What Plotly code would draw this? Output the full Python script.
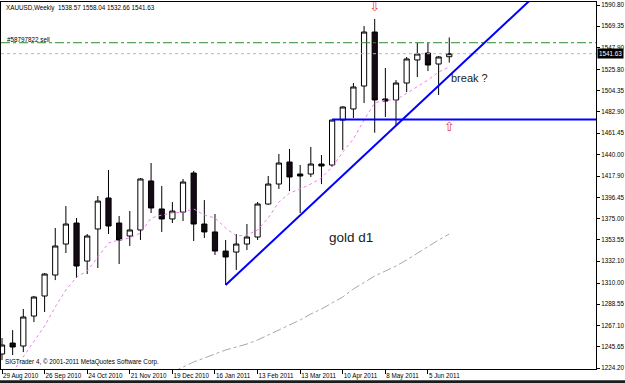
import plotly.graph_objects as go

# ---- data (weekly XAUUSD, 29 Aug 2010 .. 19 Jun 2011) ----
opens = [1238.3, 1249.4, 1246.4, 1276.7, 1296.9, 1318.1, 1349.4, 1370.6, 1332.2, 1364.6,
         1395.9, 1370.6, 1357.5, 1363.6, 1413.1, 1384.8, 1374.7, 1381.7, 1421.1, 1369.6,
         1361.6, 1342.3, 1341.3, 1349.4, 1356.5, 1389.8, 1410.0, 1432.2, 1420.1, 1420.1,
         1430.2, 1429.2, 1474.6, 1485.8, 1509.0, 1563.5, 1495.9, 1494.9, 1512.0, 1535.3,
         1542.3, 1531.2, 1538.57]
highs = [1254.5, 1262.5, 1283.8, 1297.0, 1320.1, 1365.6, 1387.8, 1375.7, 1359.5, 1397.9,
         1424.2, 1377.7, 1382.7, 1416.1, 1431.2, 1408.0, 1391.8, 1415.1, 1423.2, 1393.8,
         1379.7, 1353.5, 1359.5, 1369.6, 1391.8, 1418.1, 1440.3, 1445.4, 1429.2, 1447.4,
         1439.3, 1475.0, 1488.5, 1512.0, 1569.6, 1576.7, 1527.2, 1515.0, 1538.3, 1552.4,
         1552.4, 1539.3, 1558.04]
lows = [1232.2, 1237.3, 1240.3, 1270.6, 1280.7, 1313.0, 1340.3, 1315.1, 1319.1, 1325.2,
        1359.5, 1329.2, 1347.4, 1353.5, 1380.7, 1361.6, 1370.6, 1372.6, 1352.4, 1355.5,
        1338.3, 1308.0, 1323.2, 1343.3, 1353.5, 1389.0, 1405.0, 1402.9, 1380.7, 1417.1,
        1410.0, 1427.2, 1444.4, 1476.7, 1491.8, 1461.8, 1477.7, 1468.6, 1502.9, 1518.1,
        1524.1, 1499.9, 1532.66]
closes = [1247.4, 1245.4, 1275.7, 1295.9, 1319.1, 1347.4, 1369.6, 1327.2, 1357.5, 1392.8,
          1367.6, 1353.5, 1363.6, 1415.1, 1385.8, 1374.7, 1382.7, 1412.0, 1369.6, 1361.6,
          1342.3, 1336.3, 1349.4, 1356.5, 1389.8, 1410.0, 1431.2, 1417.1, 1418.1, 1430.2,
          1428.2, 1474.6, 1487.8, 1508.0, 1563.5, 1494.9, 1493.8, 1512.0, 1536.3, 1541.3,
          1530.2, 1538.3, 1541.63]
bar_index = list(range(len(opens)))

# short moving average (pink dotted), read per bar starting at bar 1
fast_ma_start = 1
fast_ma = [1220.0, 1235.3, 1250.4, 1266.6, 1285.8, 1303.0, 1316.1, 1322.1, 1336.3, 1350.4,
           1353.5, 1355.5, 1360.5, 1375.7, 1378.7, 1380.7, 1381.7, 1384.8, 1378.7, 1375.7,
           1365.6, 1357.5, 1358.5, 1363.6, 1375.7, 1391.8, 1400.9, 1405.0, 1410.0, 1416.1,
           1427.2, 1442.3, 1455.5, 1474.6, 1491.8, 1494.9, 1494.9, 1501.9, 1508.0, 1515.1,
           1523.1, 1528.2]
# long moving average (gray dash-dot), read per bar starting at bar 16
slow_ma_start = 16
slow_ma = [1220.0, 1225.2, 1230.3, 1234.3, 1238.3, 1242.4, 1245.4, 1248.4, 1252.5, 1257.5,
           1262.6, 1267.6, 1272.7, 1278.7, 1283.8, 1289.9, 1295.9, 1304.0, 1311.0, 1317.1,
           1322.1, 1327.2, 1333.3, 1340.3, 1347.4, 1353.5, 1359.5]

# trend line anchors and levels
trend_x = [21, 49.5]
trend_y = [1308.0, 1594.8]
support_level = 1475.2
support_start = 31
order_level = 1552.7
bid_level = 1541.63

# arrow objects
arrow_down_x, arrow_down_y = [35], [1588.0]
arrow_up_x, arrow_up_y = [42], [1466.5]

# axis labels
date_ticks = [0, 4, 8, 12, 16, 20, 24, 28, 32, 36, 40]
date_labels = ["29 Aug 2010", "26 Sep 2010", "24 Oct 2010", "21 Nov 2010", "19 Dec 2010",
               "16 Jan 2011", "13 Feb 2011", "13 Mar 2011", "10 Apr 2011", "8 May 2011",
               "5 Jun 2011"]
price_ticks = [1590.80, 1569.35, 1547.90, 1525.80, 1504.35, 1482.90, 1461.45, 1440.00,
               1417.90, 1396.45, 1375.00, 1353.55, 1332.10, 1310.00, 1288.55, 1267.10,
               1245.65, 1224.20]

X_RANGE = [-0.094, 55.78]
Y_RANGE = [1223.19, 1593.83]
FONT = "Liberation Sans, Arial, sans-serif"

fig = go.Figure()

# horizontal order line and bid line
fig.add_trace(go.Scatter(x=X_RANGE, y=[order_level, order_level], mode="lines",
                         line=dict(color="#2e8b2e", width=1, dash="dashdot"), hoverinfo="skip"))
fig.add_trace(go.Scatter(x=X_RANGE, y=[bid_level, bid_level], mode="lines",
                         line=dict(color="#b4b4cc", width=1, dash="dot"), hoverinfo="skip"))

# moving averages
fig.add_trace(go.Scatter(x=list(range(slow_ma_start, slow_ma_start + len(slow_ma))), y=slow_ma,
                         mode="lines", line=dict(color="#a8a8a8", width=1, dash="dashdot"),
                         hoverinfo="skip"))
fig.add_trace(go.Scatter(x=list(range(fast_ma_start, fast_ma_start + len(fast_ma))), y=fast_ma,
                         mode="lines", line=dict(color="#ee82ee", width=1, dash="dot"),
                         hoverinfo="skip"))

# candles
fig.add_trace(go.Candlestick(
    x=bar_index, open=opens, high=highs, low=lows, close=closes,
    increasing=dict(line=dict(color="black", width=1), fillcolor="white"),
    decreasing=dict(line=dict(color="black", width=1), fillcolor="#140a14"),
    whiskerwidth=0, hoverinfo="skip"))

# blue trend line and support line
fig.add_trace(go.Scatter(x=trend_x, y=trend_y, mode="lines",
                         line=dict(color="#0000ff", width=2), hoverinfo="skip"))
fig.add_trace(go.Scatter(x=[support_start, X_RANGE[1]], y=[support_level, support_level],
                         mode="lines", line=dict(color="#0000ff", width=2), hoverinfo="skip"))

# arrows
fig.add_trace(go.Scatter(x=arrow_down_x, y=arrow_down_y, mode="text", text=["⇩"],
                         textfont=dict(color="#e04040", size=13, family="DejaVu Sans"),
                         hoverinfo="skip"))
fig.add_trace(go.Scatter(x=arrow_up_x, y=arrow_up_y, mode="text", text=["⇧"],
                         textfont=dict(color="#e04040", size=13, family="DejaVu Sans"),
                         hoverinfo="skip"))

small = dict(family=FONT, size=6.3, color="black")
annotations = [
    dict(text="XAUUSD,Weekly  1538.57 1558.04 1532.66 1541.63", xref="paper", yref="paper",
         x=0.005, y=0.984, xanchor="left", yanchor="middle", showarrow=False, font=small),
    dict(text="#58797822 sell", xref="paper", yref="paper", x=0.006, y=0.898,
         xanchor="left", yanchor="middle", showarrow=False, font=small),
    dict(text="SIGTrader 4, © 2001-2011 MetaQuotes Software Corp.", xref="paper", yref="paper",
         x=0.004, y=0.018, xanchor="left", yanchor="middle", showarrow=False, font=small),
    dict(text="gold d1", x=32.75, y=1355.5, xref="x", yref="y", showarrow=False,
         font=dict(family=FONT, size=13.5, color="#1a1a1a")),
    dict(text="break ?", x=43.9, y=1517.1, xref="x", yref="y", showarrow=False,
         font=dict(family=FONT, size=11, color="#1a1a1a")),
    dict(text="1541.63", xref="paper", yref="y", x=1.002, y=bid_level, xanchor="left",
         yanchor="middle", showarrow=False, bgcolor="black", borderpad=1,
         font=dict(family=FONT, size=6.3, color="white")),
]

fig.update_layout(
    width=625, height=383,
    margin=dict(l=1, r=29, t=2, b=14, pad=0),
    paper_bgcolor="white", plot_bgcolor="white",
    showlegend=False, hovermode=False,
    annotations=annotations,
    shapes=[dict(type="rect", xref="paper", yref="paper", x0=-0.01, x1=1.06,
                 y0=-0.06, y1=-0.0305, fillcolor="#1c1c1c", line=dict(width=0), layer="above")],
    xaxis=dict(range=X_RANGE, rangeslider=dict(visible=False), showgrid=False, zeroline=False,
               tickmode="array", tickvals=date_ticks, ticktext=date_labels, tickangle=0,
               ticks="outside", ticklen=4, tickcolor="black", ticklabelposition="outside right",
               tickfont=small, showline=True, linecolor="black", linewidth=1, mirror=True,
               automargin=False),
    yaxis=dict(range=Y_RANGE, side="right", showgrid=False, zeroline=False,
               tickmode="array", tickvals=price_ticks, ticktext=[f"{v:.2f}" for v in price_ticks],
               ticks="outside", ticklen=3, tickcolor="black", tickfont=small,
               showline=True, linecolor="black", linewidth=1, mirror=True, automargin=False),
)

fig.write_html("out.html")
